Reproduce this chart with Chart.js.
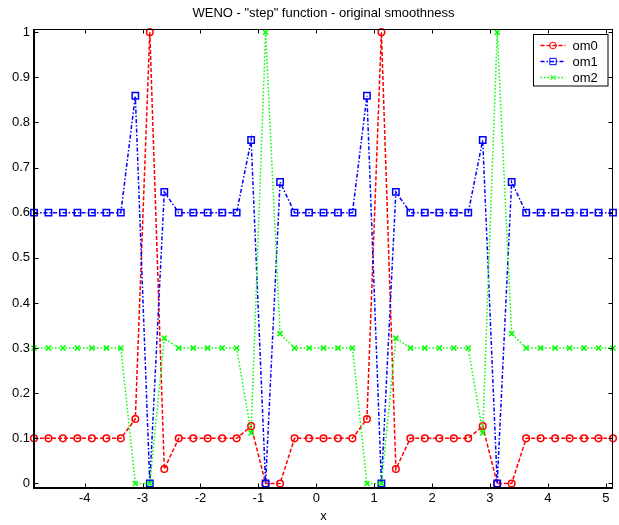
<!DOCTYPE html>
<html>
<head>
<meta charset="utf-8">
<script src="https://cdn.jsdelivr.net/npm/chart.js@4/dist/chart.umd.min.js"></script>
<style>
  html, body { margin: 0; padding: 0; background: #fff; }
  canvas { display: block; }
</style>
</head>
<body>
<canvas id="weno" width="619" height="525"></canvas>
<script>
// Grid points (cell centres, spacing 0.25)
const xValues = [
    -4.875, -4.625, -4.375, -4.125, -3.875, -3.625, -3.375, -3.125, -2.875, -2.625,
    -2.375, -2.125, -1.875, -1.625, -1.375, -1.125, -0.875, -0.625, -0.375, -0.125,
    0.125, 0.375, 0.625, 0.875, 1.125, 1.375, 1.625, 1.875, 2.125, 2.375,
    2.625, 2.875, 3.125, 3.375, 3.625, 3.875, 4.125, 4.375, 4.625, 4.875, 5.125
];

// Smoothness weights
const om0 = [
    0.1, 0.1, 0.1, 0.1, 0.1, 0.1, 0.1, 0.143, 1.0, 0.032,
    0.1, 0.1, 0.1, 0.1, 0.1, 0.127, 0, 0, 0.1, 0.1,
    0.1, 0.1, 0.1, 0.143, 1.0, 0.032, 0.1, 0.1, 0.1, 0.1,
    0.1, 0.127, 0, 0, 0.1, 0.1, 0.1, 0.1, 0.1, 0.1, 0.1
];
const om1 = [
    0.6, 0.6, 0.6, 0.6, 0.6, 0.6, 0.6, 0.859, 0, 0.646,
    0.6, 0.6, 0.6, 0.6, 0.6, 0.761, 0, 0.668, 0.6, 0.6,
    0.6, 0.6, 0.6, 0.859, 0, 0.646, 0.6, 0.6, 0.6, 0.6,
    0.6, 0.761, 0, 0.668, 0.6, 0.6, 0.6, 0.6, 0.6, 0.6, 0.6
];
const om2 = [
    0.3, 0.3, 0.3, 0.3, 0.3, 0.3, 0.3, 0, 0, 0.322,
    0.3, 0.3, 0.3, 0.3, 0.3, 0.112, 1.0, 0.332, 0.3, 0.3,
    0.3, 0.3, 0.3, 0, 0, 0.322, 0.3, 0.3, 0.3, 0.3,
    0.3, 0.112, 1.0, 0.332, 0.3, 0.3, 0.3, 0.3, 0.3, 0.3, 0.3
];

const seriesLabels = ['om0', 'om1', 'om2'];
const xTicks = [-4, -3, -2, -1, 0, 1, 2, 3, 4, 5];
const yTicks = [0, 0.1, 0.2, 0.3, 0.4, 0.5, 0.6, 0.7, 0.8, 0.9, 1];

const FONT = '"Liberation Sans", Arial, Helvetica, sans-serif';

function toPoints(ys) {
    return ys.map((y, i) => ({ x: xValues[i], y: y }));
}

// MATLAB-like box with inward ticks on all four sides
const boxPlugin = {
    id: 'box',
    afterDraw(chart) {
        const ctx = chart.ctx;
        const a = chart.chartArea;
        const xs = chart.scales.x;
        const ys = chart.scales.y;
        const tl = 4.5;
        ctx.save();
        ctx.strokeStyle = '#000';
        ctx.lineWidth = 1;
        ctx.beginPath();
        xTicks.forEach(v => {
            const px = Math.round(xs.getPixelForValue(v)) + 0.5;
            ctx.moveTo(px, a.bottom); ctx.lineTo(px, a.bottom - tl);
            ctx.moveTo(px, a.top); ctx.lineTo(px, a.top + tl);
        });
        yTicks.forEach(v => {
            const py = Math.round(ys.getPixelForValue(v)) + 0.5;
            ctx.moveTo(a.left, py); ctx.lineTo(a.left + tl, py);
            ctx.moveTo(a.right, py); ctx.lineTo(a.right - tl, py);
        });
        ctx.stroke();
        // top / right thin
        ctx.beginPath();
        ctx.moveTo(a.left, Math.round(a.top) + 0.5);
        ctx.lineTo(a.right, Math.round(a.top) + 0.5);
        ctx.moveTo(Math.round(a.right) - 0.5, a.top);
        ctx.lineTo(Math.round(a.right) - 0.5, a.bottom);
        ctx.stroke();
        // left / bottom heavier
        ctx.lineWidth = 2;
        ctx.beginPath();
        ctx.moveTo(Math.round(a.left), a.top);
        ctx.lineTo(Math.round(a.left), Math.round(a.bottom));
        ctx.lineTo(a.right, Math.round(a.bottom));
        ctx.stroke();
        ctx.restore();
    }
};

// Legend box in the upper right corner
const legendPlugin = {
    id: 'matlabLegend',
    afterDraw(chart) {
        const ctx = chart.ctx;
        const a = chart.chartArea;
        const w = 74.5, h = 51.5;
        const left = Math.round(a.right - 6 - w) + 0.5;
        const top = Math.round(a.top + 5) + 0.5;
        ctx.save();
        ctx.fillStyle = '#fff';
        ctx.fillRect(left, top, w, h);
        ctx.strokeStyle = '#000';
        ctx.lineWidth = 1;
        ctx.strokeRect(left, top, w, h);
        chart.data.datasets.forEach((ds, i) => {
            const y = Math.round(top + 10.5 + i * 16);
            ctx.save();
            ctx.strokeStyle = ds.borderColor;
            ctx.lineWidth = ds.borderWidth;
            ctx.setLineDash(ds.borderDash);
            ctx.beginPath();
            ctx.moveTo(left + 7, y + 0.5);
            ctx.lineTo(left + 32, y + 0.5);
            ctx.stroke();
            ctx.restore();
            ctx.save();
            ctx.strokeStyle = ds.borderColor;
            ctx.fillStyle = 'rgba(0,0,0,0)';
            ctx.setLineDash([]);
            Chart.helpers.drawPoint(ctx, {
                pointStyle: ds.pointStyle,
                radius: ds.pointRadius,
                borderWidth: ds.pointBorderWidth,
                rotation: 0
            }, left + 19.5, y + 0.5);
            ctx.restore();
            ctx.fillStyle = '#000';
            ctx.font = '13px ' + FONT;
            ctx.textAlign = 'left';
            ctx.textBaseline = 'middle';
            ctx.fillText(ds.label, left + 39, y + 1);
        });
        ctx.restore();
    }
};

const lineStyles = [
    { color: '#ff0000', dash: [4, 2], point: 'circle', radius: 3.3 },
    { color: '#0000ff', dash: [4, 2, 1.5, 2], point: 'rect', radius: 4.5 },
    { color: '#00ff00', dash: [1.5, 2], point: 'crossRot', radius: 3.6 }
];

const seriesData = [om0, om1, om2];

const datasets = seriesData.map((ys, i) => ({
    label: seriesLabels[i],
    data: toPoints(ys),
    showLine: true,
    borderColor: lineStyles[i].color,
    backgroundColor: 'rgba(0,0,0,0)',
    borderWidth: 1.5,
    borderDash: lineStyles[i].dash,
    pointStyle: lineStyles[i].point,
    pointRadius: lineStyles[i].radius,
    pointBorderWidth: 1.5,
    pointBorderColor: lineStyles[i].color,
    pointBackgroundColor: 'rgba(0,0,0,0)',
    tension: 0,
    clip: false,
    order: 3 - i
}));

new Chart(document.getElementById('weno'), {
    type: 'scatter',
    data: { datasets: datasets },
    options: {
        responsive: false,
        animation: false,
        devicePixelRatio: 1,
        layout: { padding: { left: 0, right: 3, top: 0, bottom: 0 } },
        plugins: {
            legend: { display: false },
            tooltip: { enabled: false },
            title: {
                display: true,
                text: 'WENO - "step" function - original smoothness',
                color: '#000',
                fullSize: false,
                font: { family: FONT, size: 13, weight: 'normal' },
                padding: { top: 6, bottom: 7.4 }
            }
        },
        scales: {
            x: {
                type: 'linear',
                min: -4.875,
                max: 5.125,
                grid: { display: false, drawTicks: false },
                border: { display: false },
                afterBuildTicks: s => { s.ticks = xTicks.map(v => ({ value: v })); },
                afterFit: s => { s.height = 37; },
                ticks: {
                    color: '#000',
                    padding: 3,
                    maxRotation: 0,
                    font: { family: FONT, size: 13 },
                    callback: v => String(v)
                },
                title: {
                    display: true,
                    text: 'x',
                    color: '#000',
                    font: { family: FONT, size: 13 },
                    padding: { top: 0, bottom: 1 }
                }
            },
            y: {
                type: 'linear',
                min: -0.01,
                max: 1.007,
                grid: { display: false, drawTicks: false },
                border: { display: false },
                afterBuildTicks: s => { s.ticks = yTicks.map(v => ({ value: v })); },
                afterFit: s => { s.width = 34; },
                ticks: {
                    color: '#000',
                    padding: 4,
                    font: { family: FONT, size: 13 },
                    callback: v => String(v)
                }
            }
        }
    },
    plugins: [boxPlugin, legendPlugin]
});
</script>
</body>
</html>
